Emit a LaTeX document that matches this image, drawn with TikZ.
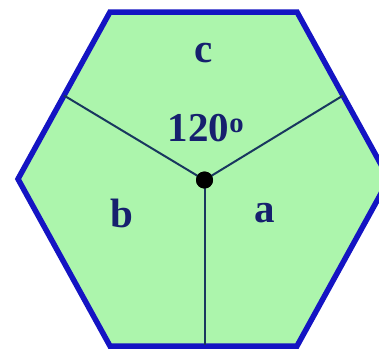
\documentclass[tikz,border=0pt]{standalone}
\usepackage{fontspec}
\setmainfont{Liberation Serif}
\usetikzlibrary{calc}
\definecolor{hexfill}{RGB}{172,245,172}
\definecolor{hexedge}{RGB}{20,20,195}
\definecolor{spoke}{RGB}{25,55,95}
\definecolor{labelc}{RGB}{22,32,110}
\begin{document}
\begin{tikzpicture}[x=1pt,y=-1pt,
  lbl/.style={text=labelc,font=\fontsize{41}{44}\selectfont\bfseries,inner sep=0pt},
  spokeline/.style={draw=spoke,line width=2pt},
  hexline/.style={draw=hexedge,fill=hexfill,line width=5.5pt,line join=miter}]
\useasboundingbox (0,0) rectangle (379,349);
\clip (0,0) rectangle (379,349);
\coordinate (v1) at (110,12);
\coordinate (v2) at (297,12);
\coordinate (v3) at (389,179);
\coordinate (v4) at (297,346);
\coordinate (v5) at (110,346);
\coordinate (v6) at (18,179);
\path[hexline] (v1) -- (v2) -- (v3) -- (v4) -- (v5) -- (v6) -- cycle;
\coordinate (mL) at ($(v6)!0.5!(v1)$);
\coordinate (mR) at ($(v2)!0.5!(v3)$);
\coordinate (mB) at (204.5,345);
\node[circle,fill=black,inner sep=0pt,minimum size=17pt] (o) at (204.5,180) {};
\draw[spokeline] (o.center) -- (mL);
\draw[spokeline] (o.center) -- (mR);
\draw[spokeline] (o.center) -- (mB);
\node[circle,fill=black,inner sep=0pt,minimum size=17pt] at (o) {};
\node[lbl] (c) at (204,53) {c};
\node[lbl] (ang) at (206,128) {120\textsuperscript{o}};
\node[lbl] (b) at (122,213) {b};
\node[lbl] (a) at (265,213) {a};
\end{tikzpicture}
\end{document}
